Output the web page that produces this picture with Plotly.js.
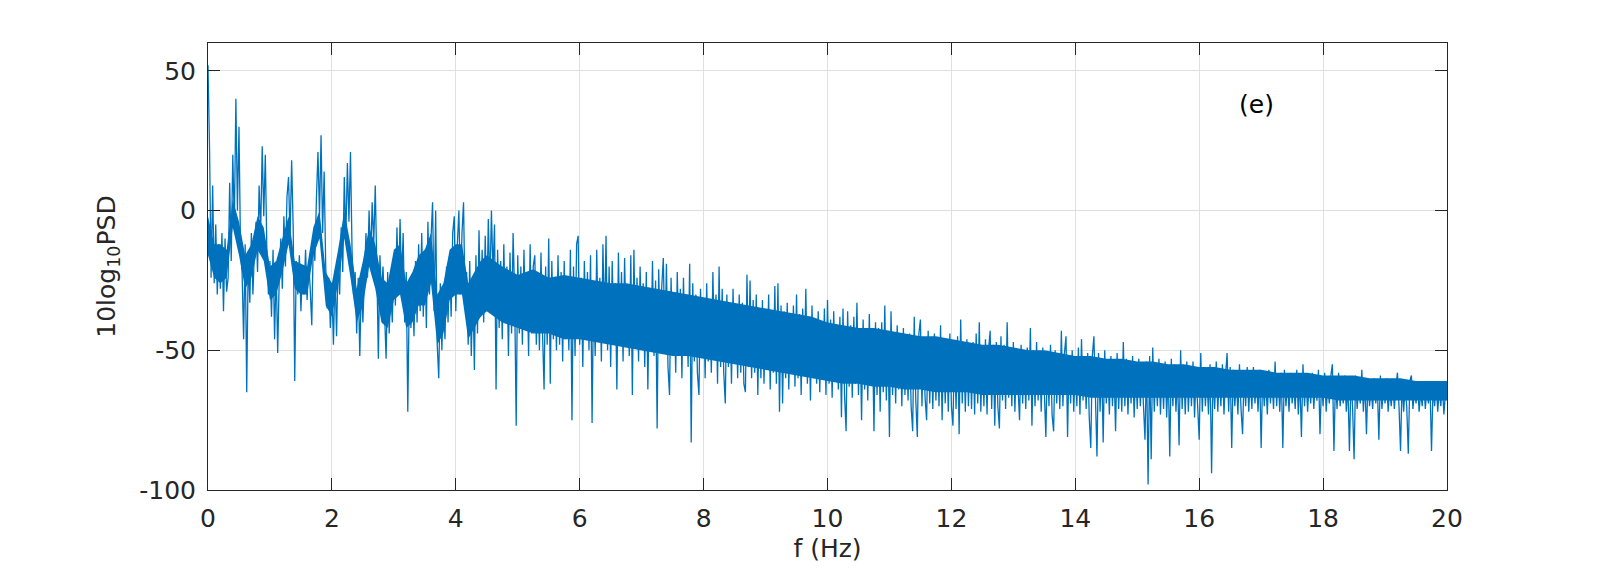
<!DOCTYPE html>
<html>
<head>
<meta charset="utf-8">
<script src="https://cdn.plot.ly/plotly-3.0.1.min.js"></script>
<style>html,body{margin:0;padding:0;background:#fff;}#chart{width:1600px;height:568px;}</style>
</head>
<body>
<div id="chart"></div>
<script>
// Frequency bin spacing (Hz) of the PSD estimate
const freqStep = 0.025;
// 10log10 PSD values, first value at f = 0, then rows of 0.5 Hz each
const psdDb = [52,
 22,-24,9,-26,-5,-30,-12,-28,-8,-36,-10,-29,-24,10,-18,20,-5,40,0,30,
 -14,-22,-46,-12,-65,-16,-33,-8,-30,-14,-4,-22,9,-8,23,-2,20,-14,-30,-18,
 -38,-14,-46,-20,-51,-24,-10,-28,-2,-20,5,12,-10,18,-6,-61,-18,-30,-16,-36,
 -20,-30,-14,-32,-18,-28,-41,-10,-18,4,21,-2,27,-8,14,-20,-35,-24,-42,-28,
 -48,-22,-45,-18,-30,-6,-22,12,-10,17,-4,21,-14,-30,-22,-44,-24,-52,-26,-40,
 -20,-8,-24,0,-18,3,-12,9,-20,-53,-16,-30,-20,-38,-53,-22,-44,-28,-40,-16,
 -34,-6,-30,-3,-26,-8,-40,-22,-72,-28,-42,-24,-45,-18,-40,-12,-36,-8,-38,-14,
 -42,-4,-30,-10,3,-36,0,-48,-60,-26,-50,-30,-46,-20,-40,-16,-38,-8,-2,-36,
 -12,0,-30,-8,3,-34,-22,-48,-18,-52,-26,-57,-16,-44,-7,-38,-14,-40,-9,-36,
 -3,-28,0,-22,-5,-64,-14,-42,-18,-46,-12,-40,-20,-52,-15,-44,-8,-30,-77,-16,
 -44,-20,-48,-14,-40,-22,-52,-12,-44,-20,-16,-48,-24,-50,-15,-44,-64,-20,-48,-10,
 -62,-18,-46,-24,-50,-16,-48,-22,-54,-18,-46,-26,-50,-14,-75,-20,-52,-12,-9,-48,
 -24,-56,-18,-44,-22,-50,-16,-76,-26,-52,-14,-46,-24,-54,-12,-42,-9,-50,-20,-56,
 -18,-44,-26,-64,-15,-48,-22,-54,-17,-46,-28,-52,-16,-66,-14,-48,-24,-54,-20,-44,
 -26,-56,-22,-64,-28,-50,-18,-52,-25,-78,-21,-48,-27,-17,-50,-19,-56,-66,-24,-52,
 -30,-58,-22,-48,-28,-60,-24,-50,-30,-56,-19,-83,-26,-54,-30,-58,-66,-28,-52,-32,
 -60,-26,-54,-34,-58,-22,-50,-30,-62,-20,-56,-28,-58,-69,-30,-56,-34,-62,-28,-54,
 -36,-60,-30,-58,-33,-62,-65,-23,-56,-25,-60,-32,-58,-30,-66,-36,-60,-32,-62,-38,
 -56,-30,-64,-36,-58,-27,-62,-26,-72,-34,-69,-36,-60,-33,-64,-38,-58,-34,-63,-30,
 -60,-37,-66,-35,-58,-28,-62,-38,-68,-34,-60,-40,-62,-36,-65,-40,-60,-35,-66,-32,
 -62,-39,-67,-36,-60,-41,-64,-38,-74,-35,-66,-79,-36,-63,-41,-67,-38,-62,-33,-66,
 -42,-75,-39,-64,-43,-68,-37,-62,-44,-79,-40,-66,-42,-72,-40,-65,-34,-68,-43,-81,
 -36,-66,-44,-69,-41,-64,-45,-70,-42,-66,-46,-68,-44,-70,-79,-38,-68,-81,-44,-39,
 -70,-46,-67,-75,-43,-69,-47,-71,-44,-68,-48,-70,-41,-75,-46,-69,-48,-72,-44,-70,
 -77,-47,-71,-45,-80,-39,-69,-49,-72,-46,-70,-48,-71,-47,-73,-44,-69,-40,-72,-49,
 -70,-46,-73,-50,-43,-71,-48,-77,-47,-70,-78,-45,-68,-48,-71,-40,-67,-50,-70,-47,
 -72,-51,-66,-75,-48,-69,-52,-71,-49,-68,-42,-77,-50,-70,-47,-68,-52,-72,-49,-67,
 -81,-51,-70,-48,-73,-79,-50,-69,-53,-71,-43,-70,-51,-45,-81,-52,-69,-50,-72,-54,
 -70,-49,-73,-46,-68,-53,-71,-51,-74,-85,-52,-45,-70,-88,-51,-72,-54,-83,-50,-69,
 -55,-73,-52,-70,-56,-79,-51,-71,-54,-72,-47,-70,-53,-73,-55,-69,-52,-74,-56,-71,
 -53,-70,-57,-72,-82,-54,-98,-52,-89,-49,-72,-55,-70,-53,-73,-56,-71,-54,-74,-57,
 -88,-53,-70,-55,-72,-58,-84,-50,-71,-56,-73,-54,-72,-57,-70,-54,-74,-58,-71,-82,
 -51,-72,-56,-70,-59,-73,-55,-94,-57,-71,-54,-72,-58,-70,-55,-73,-59,-51,-72,-56,
 -85,-57,-70,-60,-73,-55,-71,-80,-58,-70,-56,-72,-59,-71,-56,-69,-60,-72,-57,-85,
 -58,-70,-61,-73,-57,-69,-60,-71,-54,-70,-59,-72,-58,-85,-57,-70,-61,-72,-58,-69,
 -62,-71,-57,-73,-60,-81,-55,-70,-59,-72,-61,-69,-58,-71,-60,-68,-57,-80,-61,-70,
 -58,-72,-62,-69,-59,-55,-86,-60,-71,-58,-70,-62,-69,-59,-72,-62,-86,-60,-70,-89,
 -59,-71,-63,-69,-57,-72,-61,-80,-60,-70,-63,-71,-60,-69,-62,-82,-59,-71,-63,-69,
 -60,-72,-64,-70,-61,-71,-63,-58,-70,-86,-61,-72,-63,-70,-87,-61,-59,-71,-64,-69,
 -62,-72,-65,-70,-61,-71,-64,-69,-62,-86,-63,-70,-61,-72,-64,-70,-62,-73,-65,-67
];
// Dense inner core of the spectrum (where the trace merges into a solid band)
const coreFreqs = [0,0.1,0.2,0.3,0.4,0.5,0.6,0.7,0.8,0.9,1.0,1.1,1.2,1.3,1.4,1.5,1.6,1.7,1.8,1.9,
 2.0,2.1,2.2,2.3,2.4,2.5,2.6,2.7,2.8,2.9,3.0,3.1,3.2,3.3,3.4,3.5,3.6,3.7,3.8,3.9,
 4.0,4.1,4.2,4.3,4.4,4.5,
 4.75,5,5.25,5.5,5.75,6,6.25,6.5,6.75,7,7.25,7.5,7.75,8,8.25,8.5,8.75,9,9.25,9.5,9.75,
 10,10.25,10.5,10.75,11,11.25,11.5,11.75,12,12.25,12.5,12.75,13,13.25,13.5,13.75,14,14.25,14.5,14.75,
 15,15.25,15.5,15.75,16,16.25,16.5,16.75,17,17.25,17.5,17.75,18,18.25,18.5,18.75,19,19.25,19.5,19.75,20];
const coreUpper = [-2,-12,-12,-14,4,-4,-16,-12,-2,-6,-20,-18,-10,-2,-18,-19,-20,-6,0,-22,
 -26,-14,0,-12,-28,-18,-6,-12,-24,-26,-14,-12,-26,-22,-16,-14,-8,-30,-26,-14,
 -12,-12,-26,-22,-18,-16,
 -20,-23,-21,-24,-23,-24,-25,-26,-26,-27,-28,-29,-30,-31,-32,-33,-34,-35,-36,-37,-38,
 -40,-41,-42,-42,-43,-44,-45,-45,-46,-47,-48,-48,-49,-50,-50,-51,-52,-52,-53,-53,
 -54,-54,-55,-55,-56,-56,-57,-57,-57,-58,-58,-58,-59,-59,-59,-60,-60,-60,-61,-61,-61];
const coreLower = [-16,-24,-26,-24,-6,-16,-28,-24,-14,-18,-32,-30,-22,-12,-28,-30,-30,-16,-10,-34,
 -38,-26,-10,-24,-40,-34,-20,-28,-40,-42,-32,-30,-42,-40,-34,-34,-26,-48,-44,-32,
 -30,-30,-46,-42,-38,-36,
 -40,-42,-44,-44,-46,-46,-47,-48,-49,-50,-51,-52,-52,-53,-54,-55,-56,-57,-58,-59,-60,
 -61,-62,-62,-63,-63,-64,-64,-65,-65,-65,-66,-66,-66,-66,-66,-66,-66,-67,-67,-67,
 -67,-67,-67,-67,-67,-67,-67,-67,-67,-67,-67,-67,-67,-68,-68,-68,-68,-68,-68,-68,-68];
const xTicks = [0,2,4,6,8,10,12,14,16,18,20];
const yTicks = [-100,-50,0,50];
const panelLabel = '(e)';

const freqs = psdDb.map((v, i) => +(i * freqStep).toFixed(4));

const lineBlue = '#0072BD';
const axisColor = '#262626';
const fontFam = 'DejaVu Sans, sans-serif';

const coreLowTrace = {
  x: coreFreqs, y: coreLower, type: 'scatter', mode: 'lines',
  line: {color: lineBlue, width: 0}, hoverinfo: 'skip'
};
const coreHighTrace = {
  x: coreFreqs, y: coreUpper, type: 'scatter', mode: 'lines',
  line: {color: lineBlue, width: 0}, fill: 'tonexty', fillcolor: lineBlue, hoverinfo: 'skip'
};
const trace = {
  x: freqs, y: psdDb, type: 'scatter', mode: 'lines',
  line: {color: lineBlue, width: 1.3},
  hoverinfo: 'skip'
};

const layout = {
  width: 1600, height: 568,
  margin: {l: 208, r: 153, t: 43, b: 78, pad: 0},
  paper_bgcolor: '#ffffff', plot_bgcolor: '#ffffff',
  showlegend: false,
  font: {family: fontFam, color: axisColor, size: 25},
  xaxis: {
    range: [0, 20], tickvals: xTicks, ticktext: xTicks.map(String),
    ticks: 'inside', ticklen: 12, tickwidth: 1, tickcolor: axisColor,
    showline: true, linecolor: axisColor, linewidth: 1, mirror: 'ticks',
    showgrid: true, gridcolor: '#dfdfdf', gridwidth: 1, zeroline: false,
    tickfont: {family: fontFam, size: 25, color: axisColor},
    ticklabelstandoff: 6,
    title: {text: 'f (Hz)', font: {family: fontFam, size: 25, color: axisColor}, standoff: 7},
    automargin: false
  },
  yaxis: {
    range: [-100, 60], tickvals: yTicks, ticktext: yTicks.map(String),
    ticks: 'inside', ticklen: 12, tickwidth: 1, tickcolor: axisColor,
    showline: true, linecolor: axisColor, linewidth: 1, mirror: 'ticks',
    showgrid: true, gridcolor: '#dfdfdf', gridwidth: 1, zeroline: false,
    tickfont: {family: fontFam, size: 25, color: axisColor},
    ticklabelstandoff: 6,
    title: {text: '10log<sub>10</sub>PSD', font: {family: fontFam, size: 25, color: axisColor}, standoff: 16},
    automargin: false
  },
  annotations: [{
    x: 16.93, y: 38, xref: 'x', yref: 'y', text: panelLabel, showarrow: false,
    font: {family: fontFam, size: 25, color: '#000000'}
  }]
};

Plotly.newPlot('chart', [coreLowTrace, coreHighTrace, trace], layout, {staticPlot: true, displayModeBar: false});
</script>
</body>
</html>
